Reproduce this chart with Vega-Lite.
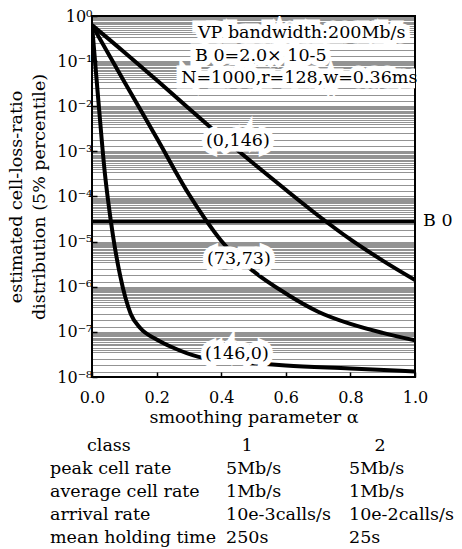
{
  "$schema": "https://vega.github.io/schema/vega-lite/v6.json",
  "background": "white",
  "padding": {"left": 6, "top": 7, "right": 0, "bottom": 0},
  "spacing": 10,
  "config": {
    "font": "DejaVu Serif",
    "view": {"stroke": null},
    "axis": {"labelColor": "black", "titleColor": "black", "titleFontWeight": "normal", "domainColor": "black", "tickColor": "black", "labelFont": "DejaVu Serif", "titleFont": "DejaVu Serif"},
    "text": {"font": "DejaVu Serif", "color": "black"}
  },
  "vconcat": [
    {
      "width": 323,
      "height": 361,
      "view": {"stroke": "black", "strokeWidth": 2},
      "layer": [
        {
          "data": {"values": [
            {"series": "(0,146)", "alpha": 0, "clr": 0.63},
            {"series": "(0,146)", "alpha": 0.1, "clr": 0.158},
            {"series": "(0,146)", "alpha": 0.2, "clr": 0.038},
            {"series": "(0,146)", "alpha": 0.3, "clr": 0.0089},
            {"series": "(0,146)", "alpha": 0.4, "clr": 0.00214},
            {"series": "(0,146)", "alpha": 0.5, "clr": 5.4e-4},
            {"series": "(0,146)", "alpha": 0.6, "clr": 1.41e-4},
            {"series": "(0,146)", "alpha": 0.7, "clr": 3.8e-5},
            {"series": "(0,146)", "alpha": 0.8, "clr": 1.12e-5},
            {"series": "(0,146)", "alpha": 0.9, "clr": 3.8e-6},
            {"series": "(0,146)", "alpha": 1.0, "clr": 1.41e-6},
            {"series": "(73,73)", "alpha": 0, "clr": 0.63},
            {"series": "(73,73)", "alpha": 0.1, "clr": 0.035},
            {"series": "(73,73)", "alpha": 0.2, "clr": 2.0e-3},
            {"series": "(73,73)", "alpha": 0.3, "clr": 1.12e-4},
            {"series": "(73,73)", "alpha": 0.35, "clr": 3.2e-5},
            {"series": "(73,73)", "alpha": 0.4, "clr": 1.05e-5},
            {"series": "(73,73)", "alpha": 0.5, "clr": 2.2e-6},
            {"series": "(73,73)", "alpha": 0.6, "clr": 7.1e-7},
            {"series": "(73,73)", "alpha": 0.7, "clr": 2.8e-7},
            {"series": "(73,73)", "alpha": 0.8, "clr": 1.5e-7},
            {"series": "(73,73)", "alpha": 0.9, "clr": 9.5e-8},
            {"series": "(73,73)", "alpha": 1.0, "clr": 6.5e-8},
            {"series": "(146,0)", "alpha": 0, "clr": 0.63},
            {"series": "(146,0)", "alpha": 0.02, "clr": 0.0126},
            {"series": "(146,0)", "alpha": 0.04, "clr": 3.2e-4},
            {"series": "(146,0)", "alpha": 0.05, "clr": 7.9e-5},
            {"series": "(146,0)", "alpha": 0.065, "clr": 1.35e-5},
            {"series": "(146,0)", "alpha": 0.087, "clr": 1.78e-6},
            {"series": "(146,0)", "alpha": 0.12, "clr": 2.5e-7},
            {"series": "(146,0)", "alpha": 0.15, "clr": 1.2e-7},
            {"series": "(146,0)", "alpha": 0.2, "clr": 6.8e-8},
            {"series": "(146,0)", "alpha": 0.25, "clr": 4.5e-8},
            {"series": "(146,0)", "alpha": 0.33, "clr": 2.8e-8},
            {"series": "(146,0)", "alpha": 0.45, "clr": 2.2e-8},
            {"series": "(146,0)", "alpha": 0.6, "clr": 1.8e-8},
            {"series": "(146,0)", "alpha": 0.8, "clr": 1.55e-8},
            {"series": "(146,0)", "alpha": 1.0, "clr": 1.32e-8}
          ]},
          "mark": {"type": "line", "color": "black", "strokeWidth": 4, "interpolate": "monotone", "clip": true},
          "encoding": {
            "x": {
              "field": "alpha", "type": "quantitative",
              "scale": {"domain": [0, 1], "nice": false, "zero": false},
              "axis": {
                "values": [0, 0.1, 0.2, 0.3, 0.4, 0.5, 0.6, 0.7, 0.8, 0.9, 1.0],
                "labelExpr": "round(datum.value*10) % 2 == 0 ? format(datum.value, '.1f') : ''",
                "labelFontSize": 16, "labelFlush": false, "labelPadding": 17,
                "tickSize": -5, "tickWidth": 1.5, "domain": false, "grid": false,
                "title": "smoothing parameter  α", "titleFontSize": 17.5, "titlePadding": 3
              }
            },
            "y": {
              "field": "clr", "type": "quantitative",
              "scale": {"type": "log", "domain": [1e-8, 1], "nice": false},
              "axis": {
                "values": [1,
                  9.5e-1, 9e-1, 8.5e-1, 8e-1, 7.5e-1, 7e-1, 6.5e-1, 6e-1, 5.5e-1, 5e-1, 4.5e-1, 4e-1, 3.5e-1, 2.5e-1, 1.8e-1, 1.3e-1, 1e-1,
                  9.5e-2, 9e-2, 8.5e-2, 8e-2, 7.5e-2, 7e-2, 6.5e-2, 6e-2, 5.5e-2, 5e-2, 4.5e-2, 4e-2, 3.5e-2, 2.5e-2, 1.8e-2, 1.3e-2, 1e-2,
                  9.5e-3, 9e-3, 8.5e-3, 8e-3, 7.5e-3, 7e-3, 6.5e-3, 6e-3, 5.5e-3, 5e-3, 4.5e-3, 4e-3, 3.5e-3, 2.5e-3, 1.8e-3, 1.3e-3, 1e-3,
                  9.5e-4, 9e-4, 8.5e-4, 8e-4, 7.5e-4, 7e-4, 6.5e-4, 6e-4, 5.5e-4, 5e-4, 4.5e-4, 4e-4, 3.5e-4, 2.5e-4, 1.8e-4, 1.3e-4, 1e-4,
                  9.5e-5, 9e-5, 8.5e-5, 8e-5, 7.5e-5, 7e-5, 6.5e-5, 6e-5, 5.5e-5, 5e-5, 4.5e-5, 4e-5, 3.5e-5, 2.5e-5, 1.8e-5, 1.3e-5, 1e-5,
                  9.5e-6, 9e-6, 8.5e-6, 8e-6, 7.5e-6, 7e-6, 6.5e-6, 6e-6, 5.5e-6, 5e-6, 4.5e-6, 4e-6, 3.5e-6, 2.5e-6, 1.8e-6, 1.3e-6, 1e-6,
                  9.5e-7, 9e-7, 8.5e-7, 8e-7, 7.5e-7, 7e-7, 6.5e-7, 6e-7, 5.5e-7, 5e-7, 4.5e-7, 4e-7, 3.5e-7, 2.5e-7, 1.8e-7, 1.3e-7, 1e-7,
                  9.5e-8, 9e-8, 8.5e-8, 8e-8, 7.5e-8, 7e-8, 6.5e-8, 6e-8, 5.5e-8, 5e-8, 4.5e-8, 4e-8, 3.5e-8, 2.5e-8, 1.8e-8, 1.3e-8, 1e-8],
                "labelExpr": "abs(log(datum.value)/LN10 - round(log(datum.value)/LN10)) < 0.001 ? '10' + (datum.value > 0.5 ? '⁰' : '⁻' + ['⁰','¹','²','³','⁴','⁵','⁶','⁷','⁸'][round(-log(datum.value)/LN10)]) : ''",
                "labelOverlap": false, "labelFlush": false, "labelBound": false,
                "labelFontSize": 16, "labelPadding": 5,
                "tickSize": -5, "tickWidth": 1.5,
                "tickOpacity": {"condition": {"test": "abs(log(datum.value)/LN10 - round(log(datum.value)/LN10)) < 0.001", "value": 1}, "value": 0},
                "grid": true, "gridDash": [1, 1], "gridColor": "black", "gridOpacity": 0.85, "gridWidth": 1,
                "domain": false,
                "title": ["estimated cell-loss-ratio", "distribution (5% percentile)"],
                "titleFontSize": 17.5, "titleLineHeight": 23, "titlePadding": 8
              }
            },
            "detail": {"field": "series"}
          }
        },
        {
          "data": {"values": [{"name": "B 0", "clr": 2.8e-5}]},
          "layer": [
            {"mark": {"type": "rule", "color": "black", "strokeWidth": 4}, "encoding": {"y": {"field": "clr", "type": "quantitative"}}},
            {"mark": {"type": "text", "align": "left", "baseline": "middle", "dx": 8, "fontSize": 17.5}, "encoding": {"x": {"datum": 1}, "y": {"field": "clr", "type": "quantitative"}, "text": {"field": "name"}}}
          ]
        },
        {
          "data": {"values": [
            {"label": "(0,146)", "alpha": 0.353, "clr": 1.7e-3},
            {"label": "(73,73)", "alpha": 0.356, "clr": 4.2e-6},
            {"label": "(146,0)", "alpha": 0.35, "clr": 3.16e-8},
            {"label": "VP  bandwidth:200Mb/s", "alpha": 0.328, "clr": 0.42},
            {"label": "B 0=2.0× 10-5", "alpha": 0.319, "clr": 0.13},
            {"label": "N=1000,r=128,w=0.36ms", "alpha": 0.276, "clr": 0.0426}
          ]},
          "encoding": {
            "x": {"field": "alpha", "type": "quantitative"},
            "y": {"field": "clr", "type": "quantitative"},
            "text": {"field": "label"}
          },
          "layer": [
            {"mark": {"type": "text", "align": "left", "baseline": "middle", "fontSize": 17.5, "fill": "white", "stroke": "white", "strokeWidth": 11, "clip": true}},
            {"mark": {"type": "text", "align": "left", "baseline": "middle", "fontSize": 17.5, "color": "black"}}
          ]
        }
      ]
    },
    {
      "width": 327,
      "height": 92,
      "view": {"stroke": null},
      "data": {"values": [
        {"item": "class", "c1": "1", "c2": "2"},
        {"item": "peak cell rate", "c1": "5Mb/s", "c2": "5Mb/s"},
        {"item": "average cell rate", "c1": "1Mb/s", "c2": "1Mb/s"},
        {"item": "arrival rate", "c1": "10e-3calls/s", "c2": "10e-2calls/s"},
        {"item": "mean holding time", "c1": "250s", "c2": "25s"}
      ]},
      "encoding": {
        "y": {"field": "item", "type": "nominal", "scale": {"type": "point", "padding": 0, "domain": ["class", "peak cell rate", "average cell rate", "arrival rate", "mean holding time"]}, "axis": null}
      },
      "layer": [
        {
          "transform": [{"filter": "datum.item != 'class'"}],
          "layer": [
            {"mark": {"type": "text", "align": "left", "baseline": "middle", "fontSize": 17.5, "dx": -42},
             "encoding": {"x": {"datum": "name", "type": "nominal", "scale": {"type": "point", "domain": ["name", "c1", "c2"], "padding": 0}, "axis": null}, "text": {"field": "item"}}},
            {"mark": {"type": "text", "align": "left", "baseline": "middle", "fontSize": 17.5, "dx": -29.5},
             "encoding": {"x": {"datum": "c1", "type": "nominal"}, "text": {"field": "c1"}}},
            {"mark": {"type": "text", "align": "left", "baseline": "middle", "fontSize": 17.5, "dx": -70},
             "encoding": {"x": {"datum": "c2", "type": "nominal"}, "text": {"field": "c2"}}}
          ]
        },
        {
          "transform": [{"filter": "datum.item == 'class'"}],
          "layer": [
            {"mark": {"type": "text", "align": "left", "baseline": "middle", "fontSize": 17.5, "dx": -5},
             "encoding": {"x": {"datum": "name", "type": "nominal"}, "text": {"field": "item"}}},
            {"mark": {"type": "text", "align": "center", "baseline": "middle", "fontSize": 17.5, "dx": -8.5},
             "encoding": {"x": {"datum": "c1", "type": "nominal"}, "text": {"field": "c1"}}},
            {"mark": {"type": "text", "align": "center", "baseline": "middle", "fontSize": 17.5, "dx": -39},
             "encoding": {"x": {"datum": "c2", "type": "nominal"}, "text": {"field": "c2"}}}
          ]
        }
      ]
    }
  ]
}
